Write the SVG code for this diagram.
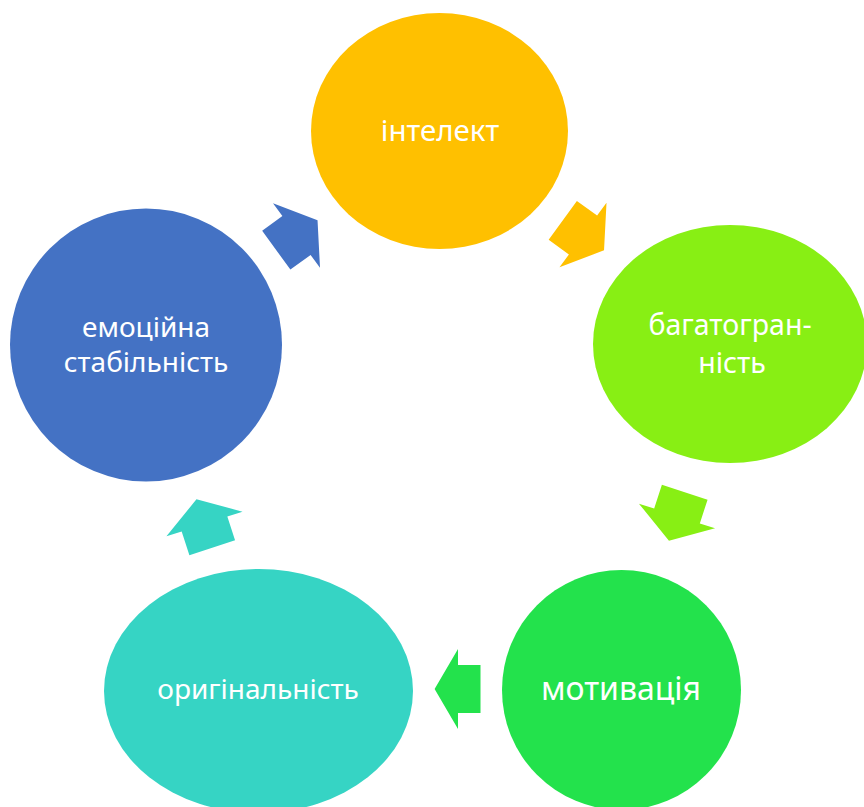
<svg xmlns="http://www.w3.org/2000/svg" width="864" height="807" viewBox="0 0 864 807">
<style>
.lbl{font-family:"Noto Sans","Open Sans","DejaVu Sans",sans-serif;fill:#ffffff;text-anchor:middle;font-size:28px}
</style>
<defs>
<path id="arr" d="M -25,-24 H 0 V -40 L 26,0 L 0,40 V 24 H -25 Z"/>
</defs>
<rect width="864" height="807" fill="#ffffff"/>
<g id="n-intelekt">
<ellipse cx="439.5" cy="131" rx="128.5" ry="118" fill="#FFC000"/>
<text class="lbl" x="440" y="141" style="font-size:29.5px">інтелект</text>
</g>
<g id="n-bahatohrannist">
<ellipse cx="730" cy="344" rx="137" ry="119" fill="#88EF14"/>
<text class="lbl" x="730" y="335" style="font-size:28.5px">багатогран-</text>
<text class="lbl" x="732" y="373" style="font-size:28.5px">ність</text>
</g>
<g id="n-motyvatsiia">
<ellipse cx="621.5" cy="690" rx="119.5" ry="120" fill="#23E24C"/>
<text class="lbl" x="621" y="700" style="font-size:32px">мотивація</text>
</g>
<g id="n-oryhinalnist">
<ellipse cx="258.5" cy="691" rx="154.5" ry="122" fill="#36D4C4"/>
<text class="lbl" x="258" y="699">оригінальність</text>
</g>
<g id="n-emotsiina">
<ellipse cx="146" cy="345" rx="136" ry="136.5" fill="#4472C4"/>
<text class="lbl" x="146" y="337">емоційна</text>
<text class="lbl" x="146" y="372">стабільність</text>
</g>
<g id="connectors">
<use href="#arr" fill="#FFC000" transform="translate(583,235) rotate(36)"/>
<use href="#arr" fill="#88EF14" transform="translate(677,516) rotate(108)"/>
<use href="#arr" fill="#23E24C" transform="translate(458,689) rotate(180) scale(0.9,1)"/>
<use href="#arr" fill="#36D4C4" transform="translate(204.5,524) rotate(252)"/>
<use href="#arr" fill="#4472C4" transform="translate(296.5,235.5) rotate(324)"/>
</g>
</svg>
